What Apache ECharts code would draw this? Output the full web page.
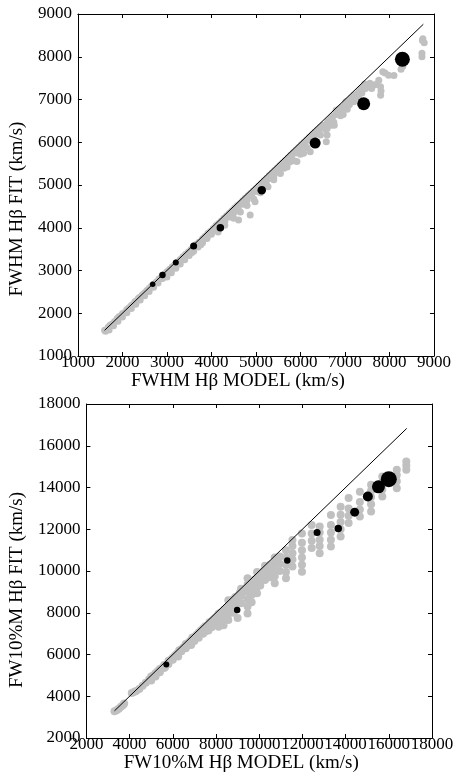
<!DOCTYPE html>
<html>
<head>
<meta charset="utf-8">
<script src="https://cdn.jsdelivr.net/npm/echarts@6/dist/echarts.min.js"></script>
<style>
  html, body { margin: 0; padding: 0; background: #fff; }
  #chart { width: 457px; height: 778px; }
</style>
</head>
<body>
<div id="chart"></div>
<script>
// FWHM panel: grey cloud of models, black = selected models, line = one-to-one
const fwhmGrey = [
  [1600,1600],[1620,1580],[1680,1670],[1720,1720],[1760,1740],[1820,1800],[1880,1870],[1920,1920],
  [1960,1930],[2000,1990],[2050,2020],[2100,2090],[2150,2130],[2200,2180],[2240,2210],[2280,2270],
  [2320,2290],[2360,2350],[2400,2380],[2450,2430],[2500,2480],[2550,2530],[2600,2580],[2650,2630],
  [2700,2680],[2760,2730],[2820,2800],[2880,2850],[2940,2910],[2980,2870],[3000,2970],[3060,3030],
  [3120,3090],[3180,3140],[3240,3200],[3300,3260],[3360,3320],[3420,3380],[3480,3430],[3540,3490],
  [3560,3420],[3600,3540],[3660,3610],[3720,3660],[3760,3600],[3800,3740],[3860,3800],[3900,3780],
  [3920,3870],[3980,3920],[4040,3980],[4100,4050],[4150,3900],[4160,4100],[4220,4160],[4280,4220],
  [4300,4060],[4340,4280],[4400,4340],[4460,4400],[4520,4460],[4560,4400],[4580,4520],[4610,4180],
  [4640,4570],[4700,4630],[4740,4560],[4760,4690],[4820,4750],[4870,4300],[4880,4800],[4940,4860],
  [4980,4610],[5000,4920],[5060,4980],[5100,4900],[5120,5040],[5180,5100],[5230,5030],[5240,5160],
  [5270,4960],[5300,5220],[5360,5280],[5400,5200],[5420,5340],[5480,5400],[5520,5300],[5540,5460],
  [5600,5520],[5630,5390],[5660,5580],[5720,5640],[5760,5540],[5780,5700],[5840,5760],[5900,5820],
  [5920,5550],[5960,5880],[6000,5750],[6020,5940],[6070,5740],[6080,6000],[6140,6060],[6200,6120],
  [6220,5780],[6260,6180],[6300,6100],[6320,6240],[6380,6290],[6420,6200],[6440,6350],[6500,6400],
  [6560,6300],[6580,6010],[6600,6170],[6620,6500],[6680,6560],[6700,6400],[6740,6620],[6760,6400],
  [6800,6750],[6860,6780],[6920,6820],[6960,6650],[7000,6900],[7020,6950],[7080,6980],[7140,7040],
  [7200,7100],[7260,7120],[7310,7180],[7360,7260],[7400,7300],[7440,7360],[7460,7260],[7640,7340],
  [7700,7350],[7800,7300],[7800,7100],[7810,7200],[7850,7650],[7900,7620],[7980,7570],[8100,7560],
  [8260,7710],[8300,7780],[8730,8000],[8730,8080],[8740,8380],[8780,8330],[8750,8420],
  [7100,6880],[7200,6950],[7300,7050],[7380,7150],[7520,7300],[7560,7380],[7600,7260],[7760,7450]
];
const fwhmGreyBand = [
  [1700,1610],[1800,1710],[1900,1810],[2000,1910],[2100,2010],[2200,2110],[2300,2210],[2400,2310],
  [2500,2410],[2600,2510],[2700,2610],[2800,2710],[2900,2810],
  [3000,2850],[3100,2950],[3200,3050],[3300,3150],[3400,3250],[3500,3350],[3600,3450],[3700,3550],
  [3800,3650],[3900,3750],[4000,3850],[4100,3950],[4200,4050],[4300,4150],[4400,4250],[4500,4350],
  [4600,4450],[4700,4550],[4800,4650],[4900,4750],[5000,4850],[5100,4950],[5200,5050],[5300,5150],
  [5400,5250],[5500,5350],[5600,5450],[5700,5550],[5800,5650],[5900,5750],[6000,5850],[6100,5950],
  [6200,6050],[6300,6150],[6400,6250],[6500,6350],[6600,6450],[6700,6550],[6800,6650],[6900,6750],
  [7000,6850],
  [4500,4220],[4650,4370],[4800,4520],[4950,4670],[5100,4820],[5250,4970],[5400,5120],[5550,5270],
  [5700,5420],[5850,5570],[6000,5720],[6150,5870],[6300,6020],[6450,6170],[6600,6320],[6750,6470],
  [6900,6620],[7050,6770]
];
const fwhmBlack = [
  [2680,2680],[2900,2895],[3200,3190],[3600,3575],[4200,4000],
  [5130,4880],[6330,5980],[7420,6900],[8290,7940]
];
const fwhmLine = [[1600,1600],[8760,8760]];
const fwhmTicks = [1000, 9000, 1000]; // min, max, step

// FW10%M panel
const fw10Grey = [
  [3300,3280],[3400,3330],[3500,3400],[3600,3500],[3700,3580],[3750,3650],[4100,4150],[4200,4200],
  [4300,4250],[4450,4350],[4600,4500],[4750,4650],[4900,4800],[5000,4950],[5100,5000],[5200,5100],
  [5300,5200],[5400,5300],[5500,5350],[5600,5500],[5650,5400],[5800,5700],[5900,5750],[6000,5850],
  [6100,5950],[6200,6050],[6250,5900],[6300,6200],[6400,6250],[6500,6350],[6600,6300],[6600,6500],
  [6700,6550],[6800,6650],[6850,6450],[6900,6800],[7000,6850],[7000,6650],[7100,6950],[7200,7050],
  [7200,6800],[7300,7150],[7400,7250],[7400,7000],[7500,7350],[7500,7100],[7600,7400],[7650,7150],
  [7700,7550],[7800,7600],[7800,7300],[7900,7700],[7900,7450],[8000,7800],[8000,7500],[8100,7900],
  [8200,8000],[8200,7700],[8300,8050],[8300,7600],[8400,8150],[8400,7800],[8500,8250],[8550,8000],
  [8700,8550],[8900,8750],[9100,8950],[9300,9100],[9600,9400],[9800,9600],[10000,9800],[10200,10000],
  [10400,10150],[10600,10350],[10900,10650],
  [5000,4750],[5200,4950],[5400,5150],[5600,5350],[5800,5550],[6000,5750],[6200,5950],[6400,6150],
  [6600,6350],[6800,6550],[7000,6750],[7200,6950],[7400,7150],[7600,7350],[7800,7550],[8000,7700],
  [8200,7900],[8400,8050]
];
// vertical streaks of the grey cloud at large widths
const fw10GreyStreaks = [
  [8120,7330],[8120,7650],[8120,7950],
  [8350,7400],[8350,7750],[8350,8100],
  [8570,7650],[8570,7950],[8570,8300],[8570,8600],
  [8800,8000],[8800,8350],[8800,8650],
  [9000,7750],[9000,8450],[9000,8800],
  [9160,8450],[9160,8800],[9160,9150],
  [9460,7970],[9460,8300],[9460,8650],[9460,9000],[9460,9350],[9460,9650],
  [9650,8500],[9650,8850],[9650,9200],[9650,9500],
  [9900,8930],[9900,9250],[9900,9600],[9900,9950],
  [10050,9300],[10050,9650],[10050,9900],
  [10270,9570],[10270,9900],[10270,10250],
  [10500,9700],[10500,10000],[10500,10300],
  [10720,9410],[10720,9750],[10720,10050],[10720,10400],[10720,10650],
  [10950,10000],[10950,10350],[10950,10700],
  [11240,9650],[11240,9950],[11240,10300],[11240,10650],[11240,11000],
  [11540,10210],[11540,10550],[11540,10850],[11540,11200],[11540,11480],
  [11980,9970],[11980,10300],[11980,10650],[11980,11000],[11980,11350],[11980,11800],
  [12430,11100],[12430,11450],[12430,11800],[12430,12200],
  [12800,10850],[12800,11200],[12800,11500],[12800,11850],[12800,12130],
  [13320,11170],[13320,11500],[13320,11850],[13320,12200],[13320,12680],
  [13770,11650],[13770,12000],[13770,12350],[13770,12700],[13770,13080],
  [14140,12300],[14140,12650],[14140,13000],[14140,13500],
  [14660,12610],[14660,12950],[14660,13300],[14660,13800],
  [15180,12850],[15180,13200],[15180,13550],[15180,13850],[15180,14130],
  [15700,13570],[15700,13900],[15700,14250],[15700,14530],
  [16370,13970],[16370,14300],[16370,14600],[16370,14850],
  [16810,14850],[16810,15050],[16810,15250]
];
const fw10Black = [
  [5700,5520],[8980,8130],[11300,10500],[12680,11840],[13660,12030],
  [14420,12820],[15030,13570],[15520,14030],[16000,14400]
];
const fw10Line = [[3300,3300],[16830,16830]];
const fw10Ticks = [2000, 18000, 2000];

// marker sizes of the black points (px)
const fwhmBlackSize = [5.5, 6.5, 6, 7, 7.5, 8.5, 11, 13, 15];
const fw10BlackSize = [6, 6.5, 6.5, 7, 7.5, 9, 10, 13, 16];

const font = 'Liberation Serif';
const grey = '#c0c0c0';

function mainX(gi, ticks, name) {
  return {
    type: 'value', gridIndex: gi, min: ticks[0], max: ticks[1], interval: ticks[2],
    name: name, nameLocation: 'middle', nameGap: 16,
    nameTextStyle: { fontFamily: font, fontSize: 19, color: '#000', padding: [0, 36, 0, 0] },
    axisLine: { onZero: false, lineStyle: { color: '#000', width: 1 } },
    axisTick: { inside: true, length: 4, lineStyle: { color: '#000' } },
    axisLabel: { fontFamily: font, fontSize: 17, color: '#000', margin: -2, formatter: v => String(v) },
    splitLine: { show: false }
  };
}
function mainY(gi, ticks, name, shift) {
  return {
    type: 'value', gridIndex: gi, min: ticks[0], max: ticks[1], interval: ticks[2],
    name: name, nameLocation: 'middle', nameGap: 42,
    nameTextStyle: { fontFamily: font, fontSize: 19, color: '#000', padding: [0, shift, 0, 0] },
    axisLine: { onZero: false, lineStyle: { color: '#000', width: 1 } },
    axisTick: { inside: true, length: 4, lineStyle: { color: '#000' } },
    axisLabel: { fontFamily: font, fontSize: 17, color: '#000', margin: 6, formatter: v => String(v) },
    splitLine: { show: false }
  };
}
function mirror(kind, gi, ticks) {
  return {
    type: 'value', gridIndex: gi, min: ticks[0], max: ticks[1], interval: ticks[2],
    position: kind === 'x' ? 'top' : 'right',
    axisLine: { onZero: false, lineStyle: { color: '#000', width: 1 } },
    axisTick: { inside: true, length: 4, lineStyle: { color: '#000' } },
    axisLabel: { show: false },
    splitLine: { show: false }
  };
}
function dots(xi, data, size, color, z) {
  return {
    type: 'scatter', xAxisIndex: xi, yAxisIndex: xi, data: data,
    symbolSize: size, itemStyle: { color: color, opacity: 1 }, z: z
  };
}

const chart = echarts.init(document.getElementById('chart'));

chart.setOption({
  animation: false,
  backgroundColor: '#fff',
  grid: [
    { left: 68, top: 14, width: 366, height: 342 },
    { left: 73, top: 404, width: 359, height: 334 }
  ],
  xAxis: [
    mainX(0, fwhmTicks, 'FWHM H\u03b2 MODEL (km/s)'),
    mirror('x', 0, fwhmTicks),
    mainX(1, fw10Ticks, 'FW10%M H\u03b2 MODEL (km/s)'),
    mirror('x', 1, fw10Ticks)
  ],
  yAxis: [
    mainY(0, fwhmTicks, 'FWHM H\u03b2 FIT (km/s)', 48),
    mirror('y', 0, fwhmTicks),
    mainY(1, fw10Ticks, 'FW10%M H\u03b2 FIT (km/s)', 38),
    mirror('y', 1, fw10Ticks)
  ],
  series: [
    dots(0, fwhmGrey, 7, grey, 1),
    dots(0, fwhmGreyBand, 7, grey, 1),
    {
      type: 'line', xAxisIndex: 0, yAxisIndex: 0, data: fwhmLine,
      showSymbol: false, lineStyle: { color: '#000', width: 1 }, z: 2
    },
    dots(0, fwhmBlack, (v, p) => fwhmBlackSize[p.dataIndex], '#000', 3),
    dots(2, fw10Grey, 8, grey, 1),
    dots(2, fw10GreyStreaks, 8, grey, 1),
    {
      type: 'line', xAxisIndex: 2, yAxisIndex: 2, data: fw10Line,
      showSymbol: false, lineStyle: { color: '#000', width: 1 }, z: 2
    },
    dots(2, fw10Black, (v, p) => fw10BlackSize[p.dataIndex], '#000', 3)
  ]
});
</script>
</body>
</html>
